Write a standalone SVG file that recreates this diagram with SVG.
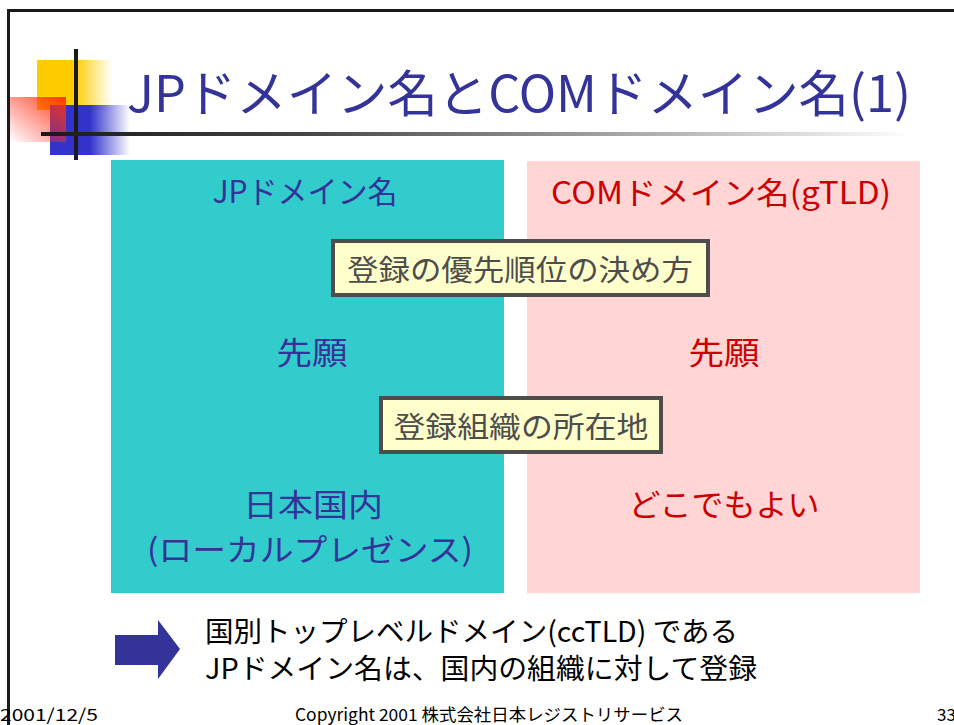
<svg xmlns="http://www.w3.org/2000/svg" width="954" height="725" viewBox="0 0 954 725">
<defs>
<linearGradient id="gYellow" x1="0" y1="0" x2="1" y2="0">
<stop offset="0" stop-color="#FFCC00"/>
<stop offset="0.5" stop-color="#FFCC00"/>
<stop offset="1" stop-color="#FFCC00" stop-opacity="0"/>
</linearGradient>
<linearGradient id="gBlue" x1="0" y1="0" x2="1" y2="0">
<stop offset="0" stop-color="#3333CC"/>
<stop offset="0.5" stop-color="#3333CC"/>
<stop offset="1" stop-color="#3333CC" stop-opacity="0"/>
</linearGradient>
<linearGradient id="gRed" x1="1" y1="0" x2="0" y2="1">
<stop offset="0" stop-color="#FF3300" stop-opacity="0.95"/>
<stop offset="1" stop-color="#FF3333" stop-opacity="0"/>
</linearGradient>
<linearGradient id="gLine" x1="0" y1="0" x2="1" y2="0">
<stop offset="0" stop-color="#1A1A1A"/>
<stop offset="0.3" stop-color="#444444"/>
<stop offset="1" stop-color="#FFFFFF"/>
</linearGradient>
</defs>
<style>
text { font-family: "Noto Sans CJK JP", "Noto Sans", sans-serif; }
.title { font-size: 50px; fill: #333399; }
.blue { font-size: 31px; fill: #333399; text-anchor: middle; }
.red { font-size: 31px; fill: #CC0000; text-anchor: middle; }
.lab { font-size: 29px; fill: #4D4D4D; text-anchor: middle; }
.labbox { fill: #FFFFCC; stroke: #4D4D4D; stroke-width: 4; }
.note { font-size: 28px; fill: #000000; }
.foot { font-size: 17px; fill: #000000; }
</style>
<rect x="0" y="0" width="954" height="725" fill="#FFFFFF"/>
<g id="border" fill="#1A1A1A">
<rect x="7" y="9" width="947" height="3"/>
<rect x="7" y="9" width="3" height="716"/>
</g>
<g id="decoration">
<rect x="37" y="60" width="75" height="50" fill="url(#gYellow)"/>
<rect x="50" y="105" width="80" height="50" fill="url(#gBlue)"/>
<rect x="10" y="97" width="56" height="45" fill="url(#gRed)"/>
<rect x="74" y="49" width="4" height="111" fill="#1A1A1A"/>
<rect x="41" y="132" width="870" height="4" fill="url(#gLine)"/>
</g>
<g id="title">
<text class="title" x="127" y="112" textLength="784" lengthAdjust="spacingAndGlyphs">JPドメイン名とCOMドメイン名(1)</text>
</g>
<g id="jp-panel">
<rect x="111" y="160" width="393" height="433" fill="#33CCCC"/>
<text class="blue" x="305" y="203" textLength="185" lengthAdjust="spacingAndGlyphs">JPドメイン名</text>
<text class="blue" x="312" y="364" textLength="71" lengthAdjust="spacingAndGlyphs">先願</text>
<text class="blue" x="313" y="516" textLength="140" lengthAdjust="spacingAndGlyphs">日本国内</text>
<text class="blue" x="310" y="561" textLength="326" lengthAdjust="spacingAndGlyphs">(ローカルプレゼンス)</text>
</g>
<g id="com-panel">
<rect x="527" y="161" width="393" height="432" fill="#FFD5D5"/>
<text class="red" x="721" y="204" textLength="340" lengthAdjust="spacingAndGlyphs">COMドメイン名(gTLD)</text>
<text class="red" x="724" y="364" textLength="71" lengthAdjust="spacingAndGlyphs">先願</text>
<text class="red" x="724" y="516" textLength="191" lengthAdjust="spacingAndGlyphs">どこでもよい</text>
</g>
<g id="label-priority">
<rect class="labbox" x="333" y="241" width="375" height="54"/>
<text class="lab" x="520" y="281" textLength="346" lengthAdjust="spacingAndGlyphs">登録の優先順位の決め方</text>
</g>
<g id="label-location">
<rect class="labbox" x="381" y="398" width="280" height="54"/>
<text class="lab" x="521" y="438" textLength="255" lengthAdjust="spacingAndGlyphs">登録組織の所在地</text>
</g>
<g id="arrow">
<polygon points="115,635 158,635 158,620 180,649 158,679 158,665 115,665" fill="#333399"/>
</g>
<g id="note">
<text class="note" x="205" y="642" textLength="533" lengthAdjust="spacingAndGlyphs">国別トップレベルドメイン(ccTLD) である</text>
<text class="note" x="205" y="679" textLength="552" lengthAdjust="spacingAndGlyphs">JPドメイン名は、国内の組織に対して登録</text>
</g>
<g id="footer">
<text class="foot" x="0" y="721" textLength="98" lengthAdjust="spacingAndGlyphs">2001/12/5</text>
<text class="foot" x="295" y="721" textLength="388" lengthAdjust="spacingAndGlyphs">Copyright 2001 株式会社日本レジストリサービス</text>
<text class="foot" x="937" y="721">33</text>
</g>
<g id="connectors"/>
</svg>
